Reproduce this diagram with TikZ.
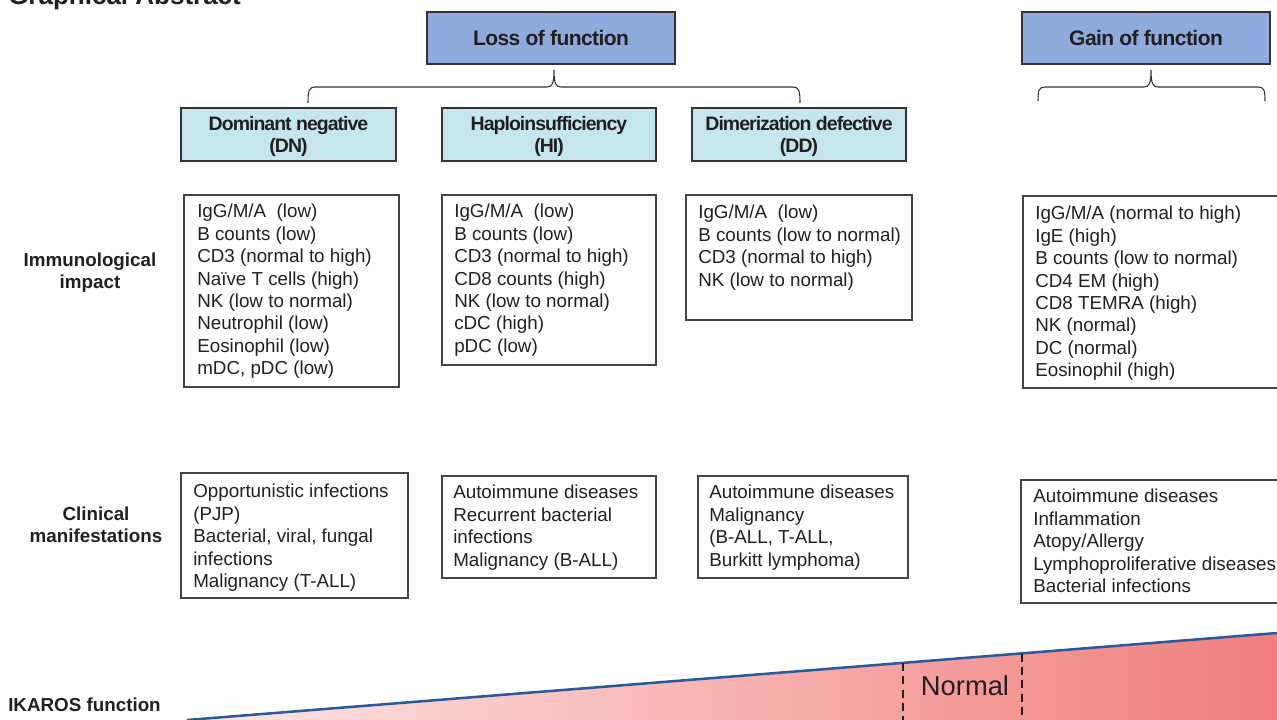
\documentclass[tikz,border=0pt]{standalone}
\usepackage{fontspec}
\setmainfont{Liberation Sans}
\usetikzlibrary{fit}
\definecolor{txt}{HTML}{231F20}
\definecolor{hdrfill}{HTML}{8FAADC}
\definecolor{subfill}{HTML}{C4E6EC}
\definecolor{edge}{HTML}{333333}
\definecolor{boxedge}{HTML}{444444}
\definecolor{lineblue}{HTML}{2B5A9B}
\definecolor{pinkL}{RGB}{253,230,230}
\definecolor{pinkR}{RGB}{240,126,124}
\begin{document}
\begin{tikzpicture}[x=0.75pt,y=-0.75pt,
 hdr/.style={draw=edge, line width=1.4pt, fill=hdrfill, inner sep=0pt},
 hdrtext/.style={inner sep=0pt, font=\fontsize{15.75pt}{18pt}\selectfont\bfseries\addfontfeature{LetterSpace=-2.7}, text=txt},
 subbox/.style={draw=edge, line width=1.3pt, fill=subfill, inner sep=0pt},
 subtext/.style={inner sep=0pt, yshift=-1.5pt, align=center, font=\fontsize{14.6pt}{16.5pt}\selectfont\bfseries\addfontfeature{LetterSpace=-5}, text=txt},
 listbox/.style={draw=boxedge, line width=0.85pt, inner sep=0pt},
 listtext/.style={anchor=north west, inner sep=0pt, align=left, font=\fontsize{14.1pt}{16.8pt}\selectfont, text=txt},
 rowlab/.style={align=center, inner sep=0pt, font=\fontsize{14.1pt}{16.5pt}\selectfont\bfseries, text=txt},
 bracepath/.style={draw=edge, line width=0.8pt},
 normline/.style={draw=txt, line width=1.1pt, dash pattern=on 6pt off 4pt},
]
\useasboundingbox (0,0) rectangle (1277,720);

% title (cut off at top, as in the reference)
\node[anchor=base west, inner sep=0pt, font=\fontsize{19.5pt}{22pt}\selectfont\bfseries, text=txt] (title) at (8,5) {Graphical Abstract};

% gradient triangle
\coordinate (tl) at (187,720);
\coordinate (tr) at (1277,633);
\coordinate (br) at (1277,725);
\coordinate (bl) at (187,725);
\shade[left color=pinkL, right color=pinkR] (tl) -- (tr) -- (br) -- (bl) -- cycle;
\draw[lineblue, line width=1.9pt] (tl) -- (tr);
\coordinate (n1t) at (903,663);
\coordinate (n1b) at (903,720);
\coordinate (n2t) at (1022,653.5);
\coordinate (n2b) at (1022,720);
\draw[normline] (n1t) -- (n1b);
\draw[normline] (n2t) -- (n2b);
\node[inner sep=0pt, font=\fontsize{20.5pt}{24pt}\selectfont, text=txt] (normal) at (965,686) {Normal};

% headers
\node[hdr, fit={(427,12) (675,64)}] (lof) {};
\node[hdrtext] (loft) at (lof.center) {Loss of function};
\node[hdr, fit={(1022,12) (1270,64)}] (gof) {};
\node[hdrtext] (goft) at (gof.center) {Gain of function};

% braces
\coordinate (b1l) at (308,103);
\coordinate (b1t) at (554,70);
\coordinate (b1r) at (800,103);
\draw[bracepath] (b1l) .. controls (308,91) and (309,87) .. (315,87) -- (547,87)
  .. controls (552,87) and (554,84) .. (b1t)
  .. controls (554,84) and (556,87) .. (561,87) -- (793,87)
  .. controls (799,87) and (800,91) .. (b1r);
\coordinate (b2l) at (1038,101);
\coordinate (b2t) at (1151,70);
\coordinate (b2r) at (1265,101);
\draw[bracepath] (b2l) .. controls (1038,90) and (1039,87) .. (1045,87) -- (1144,87)
  .. controls (1149,87) and (1151,84) .. (b2t)
  .. controls (1151,84) and (1153,87) .. (1158,87) -- (1258,87)
  .. controls (1264,87) and (1265,90) .. (b2r);

% subtype boxes
\node[subbox, fit={(181,108) (396,161)}] (dn) {};
\node[subtext] (dnt) at (dn.center) {Dominant negative\\(DN)};
\node[subbox, fit={(442,108) (656,161)}] (hi) {};
\node[subtext] (hit) at (hi.center) {Haploinsufficiency\\(HI)};
\node[subbox, fit={(692,108) (906,161)}] (dd) {};
\node[subtext] (ddt) at (dd.center) {Dimerization defective\\(DD)};

% row labels
\node[rowlab] (rimm) at (90,273) {Immunological\\impact};
\node[rowlab] (rcli) at (96,525) {Clinical\\manifestations};
\node[rowlab, anchor=west] (rika) at (8,705) {IKAROS function};

% immunological boxes
\node[listbox, fit={(184,195) (399,387)}] (dnI) {};
\node[listtext] (dnIt) at (197,204) {IgG/M/A~ (low)\\B counts (low)\\CD3 (normal to high)\\Naïve T cells (high)\\NK (low to normal)\\Neutrophil (low)\\Eosinophil (low)\\mDC, pDC (low)};
\node[listbox, fit={(442,195) (656,365)}] (hiI) {};
\node[listtext] (hiIt) at (454,204) {IgG/M/A~ (low)\\B counts (low)\\CD3 (normal to high)\\CD8 counts (high)\\NK (low to normal)\\cDC (high)\\pDC (low)};
\node[listbox, fit={(686,195) (912,320)}] (ddI) {};
\node[listtext] (ddIt) at (698,205) {IgG/M/A~ (low)\\B counts (low to normal)\\CD3 (normal to high)\\NK (low to normal)};
\node[listbox, fit={(1023,196) (1295,388)}] (gfI) {};
\node[listtext] (gfIt) at (1035,206) {IgG/M/A (normal to high)\\IgE (high)\\B counts (low to normal)\\CD4 EM (high)\\CD8 TEMRA (high)\\NK (normal)\\DC (normal)\\Eosinophil (high)};

% clinical boxes
\node[listbox, fit={(181,473) (408,598)}] (dnC) {};
\node[listtext] (dnCt) at (193,484) {Opportunistic infections\\(PJP)\\Bacterial, viral, fungal\\infections\\Malignancy (T-ALL)};
\node[listbox, fit={(442,476) (656,578)}] (hiC) {};
\node[listtext] (hiCt) at (453,485) {Autoimmune diseases\\Recurrent bacterial\\infections\\Malignancy (B-ALL)};
\node[listbox, fit={(698,476) (908,578)}] (ddC) {};
\node[listtext] (ddCt) at (709,485) {Autoimmune diseases\\Malignancy\\(B-ALL, T-ALL,\\Burkitt lymphoma)};
\node[listbox, fit={(1021,480) (1295,603)}] (gfC) {};
\node[listtext] (gfCt) at (1033,489) {Autoimmune diseases\\Inflammation\\Atopy/Allergy\\Lymphoproliferative diseases\\Bacterial infections};
\end{tikzpicture}
\end{document}
